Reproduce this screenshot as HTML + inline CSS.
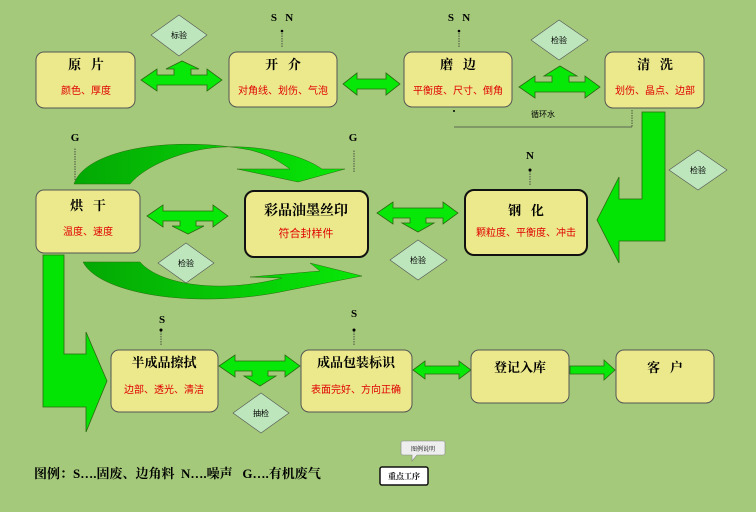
<!DOCTYPE html>
<html><head><meta charset="utf-8"><style>
html,body{margin:0;padding:0;background:#a4c97a;}
svg{display:block;font-family:"Liberation Serif","Noto Serif CJK SC","Noto Sans CJK SC",serif;}
.t{font-size:13px;font-weight:bold;fill:#000;text-anchor:middle;}
.r{font-size:10px;fill:#e00000;text-anchor:middle;font-family:"Liberation Sans","Noto Sans CJK SC",sans-serif;}
.s{font-size:11px;font-weight:bold;fill:#000;text-anchor:middle;}
.d{font-size:8px;fill:#000;text-anchor:middle;font-family:"Liberation Sans","Noto Sans CJK SC",sans-serif;}
</style></head><body>
<svg width="756" height="512" viewBox="0 0 756 512">
<rect width="756" height="512" fill="#a4c97a"/>
<defs>
<linearGradient id="ga" x1="0" y1="0" x2="1" y2="0"><stop offset="0" stop-color="#04a804"/><stop offset="1" stop-color="#08e808"/></linearGradient>
</defs>
<!-- curved arrows -->
<path d="M74,184 C85,150 170,135 250,150 C270,155 280,162 290,169 L237,169 L298,182 L345,169 L322,169 C295,150 235,140 190,152 C160,160 140,172 130,184 Z" fill="url(#ga)" stroke="#2a6a10" stroke-width="0.5"/>
<path d="M83,262 C100,295 200,310 290,290 L362,276 L310,263 L320,271 L250,277 L282,278 C220,294 160,285 140,262 Z" fill="url(#ga)" stroke="#2a6a10" stroke-width="0.5"/>
<!-- big arrows -->
<polygon points="642,112 665,112 665,241 619,241 619,263 597,220 619,177 619,199 642,199" fill="#04e404" stroke="#2a6a10" stroke-width="0.8"/>
<polygon points="43,255 64,255 64,354 86,354 86,332 107,381 86,432 86,407 43,407" fill="#04e404" stroke="#2a6a10" stroke-width="0.8"/>
<!-- tee double arrows -->
<g fill="#08e808" stroke="#2a6a10" stroke-width="0.8">
<polygon points="141,80 157,69 157,75 174,75 174,69 166,69 182,61 199,69 191,69 191,75 207,75 207,69 222,80 207,91 207,85 157,85 157,91"/>
<polygon points="519,87 535,76 535,82 552,82 552,76 544,76 560,66 577,76 569,76 569,82 585,82 585,76 600,87 585,98 585,92 535,92 535,98"/>
<polygon points="147,216 163,205 163,211 213,211 213,205 228,216 213,227 213,221 196,221 196,226 204,226 188,234 172,226 180,226 180,221 163,221 163,227"/>
<polygon points="377,213 393,202 393,208 443,208 443,202 458,213 443,224 443,218 426,218 426,223 434,223 418,232 402,223 410,223 410,218 393,218 393,224"/>
<polygon points="219,366 235,355 235,361 285,361 285,355 300,366 285,377 285,371 268,371 268,376 276,376 260,386 244,376 252,376 252,371 235,371 235,377"/>
<polygon points="343,84 357,73 357,79 386,79 386,73 400,84 386,95 386,89 357,89 357,95"/>
<polygon points="413,370 425,361 425,366 459,366 459,361 471,370 459,379 459,374 425,374 425,379"/>
<polygon points="570,366 604,366 604,360 615,370 604,380 604,374 570,374"/>
</g>
<!-- diamonds -->
<g fill="#bde6bd" stroke="#555" stroke-width="0.6">
<polygon points="179,15 207,35 179,56 151,35"/>
<polygon points="559,20 588,40 559,60 531,40"/>
<polygon points="186,243 214,263 186,283 158,263"/>
<polygon points="418,240 447,260 418,280 390,260"/>
<polygon points="698,150 727,170 698,190 669,170"/>
<polygon points="261,393 289,413 261,433 233,413"/>
</g>
<text class="d" x="179" y="38">标验</text><text class="d" x="559" y="43">检验</text>
<text class="d" x="186" y="266">检验</text><text class="d" x="418" y="263">检验</text>
<text class="d" x="698" y="173">检验</text><text class="d" x="261" y="416">抽检</text>
<!-- emission lines -->
<g stroke="#333" stroke-width="0.8" stroke-dasharray="1.5,1">
<line x1="282" y1="47" x2="282" y2="32"/><line x1="459" y1="47" x2="459" y2="32"/>
<line x1="75" y1="180" x2="75" y2="148"/><line x1="354" y1="172" x2="354" y2="150"/>
<line x1="530" y1="185" x2="530" y2="170"/><line x1="161" y1="345" x2="161" y2="330"/>
<line x1="354" y1="345" x2="354" y2="330"/><line x1="632" y1="110" x2="632" y2="127"/>
</g>
<line x1="454" y1="127" x2="632" y2="127" stroke="#444" stroke-width="0.7"/>
<circle cx="282" cy="31" r="1.3"/><circle cx="459" cy="31" r="1.3"/><circle cx="530" cy="170" r="1.5"/>
<circle cx="161" cy="330" r="1.5"/><circle cx="354" cy="330" r="1.5"/><circle cx="454" cy="111" r="1"/>
<text class="d" x="543" y="117">循环水</text>
<text class="s" x="282" y="21">S&#160;&#160;&#160;N</text><text class="s" x="459" y="21">S&#160;&#160;&#160;N</text>
<text class="s" x="75" y="141">G</text><text class="s" x="353" y="141">G</text>
<text class="s" x="530" y="159">N</text><text class="s" x="162" y="323">S</text><text class="s" x="354" y="317">S</text>
<!-- boxes -->
<g fill="#ebe98c" stroke="#555" stroke-width="1">
<rect x="36" y="52" width="99" height="56" rx="8"/>
<rect x="229" y="52" width="108" height="55" rx="8"/>
<rect x="404" y="52" width="108" height="55" rx="8"/>
<rect x="605" y="52" width="99" height="56" rx="8"/>
<rect x="36" y="190" width="104" height="63" rx="8"/>
<rect x="245" y="191" width="123" height="66" rx="9" stroke="#111" stroke-width="2"/>
<rect x="465" y="190" width="122" height="65" rx="9" stroke="#111" stroke-width="2"/>
<rect x="111" y="350" width="107" height="62" rx="8"/>
<rect x="301" y="350" width="111" height="62" rx="8"/>
<rect x="471" y="350" width="98" height="53" rx="8"/>
<rect x="616" y="350" width="98" height="53" rx="8"/>
</g>
<text class="t" x="86" y="69">原&#160;&#160;&#160;片</text><text class="r" x="86" y="94">颜色、厚度</text>
<text class="t" x="283" y="69">开&#160;&#160;&#160;介</text><text class="r" x="283" y="94">对角线、划伤、气泡</text>
<text class="t" x="458" y="69">磨&#160;&#160;&#160;边</text><text class="r" x="458" y="94">平衡度、尺寸、倒角</text>
<text class="t" x="655" y="69">清&#160;&#160;&#160;洗</text><text class="r" x="655" y="94">划伤、晶点、边部</text>
<text class="t" x="88" y="210">烘&#160;&#160;&#160;干</text><text class="r" x="88" y="235">温度、速度</text>
<text class="t" x="306" y="215" style="font-size:14px">彩品油墨丝印</text><text class="r" x="306" y="237" style="font-size:11px">符合封样件</text>
<text class="t" x="526" y="215">钢&#160;&#160;&#160;化</text><text class="r" x="526" y="236">颗粒度、平衡度、冲击</text>
<text class="t" x="164" y="367">半成品擦拭</text><text class="r" x="164" y="393">边部、透光、清洁</text>
<text class="t" x="356" y="367">成品包装标识</text><text class="r" x="356" y="393">表面完好、方向正确</text>
<text class="t" x="520" y="372">登记入库</text>
<text class="t" x="665" y="372">客&#160;&#160;&#160;户</text>
<!-- legend -->
<text x="34" y="478" style="font-size:13px;font-weight:bold">图例：S….固废、边角料&#160;&#160;N….噪声&#160;&#160;&#160;G….有机废气</text>
<path d="M403,441 h40 a2,2 0 0 1 2,2 v10 a2,2 0 0 1 -2,2 h-26 l-5,6 v-6 h-9 a2,2 0 0 1 -2,-2 v-10 a2,2 0 0 1 2,-2z" fill="#eee" stroke="#888" stroke-width="0.6"/>
<text x="423" y="451" style="font-size:6px;text-anchor:middle">图例说明</text>
<rect x="380" y="467" width="48" height="18" rx="2" fill="#fff" stroke="#111" stroke-width="1.5"/>
<text x="404" y="479" style="font-size:8px;text-anchor:middle;font-weight:bold">重点工序</text>
</svg>
</body></html>
